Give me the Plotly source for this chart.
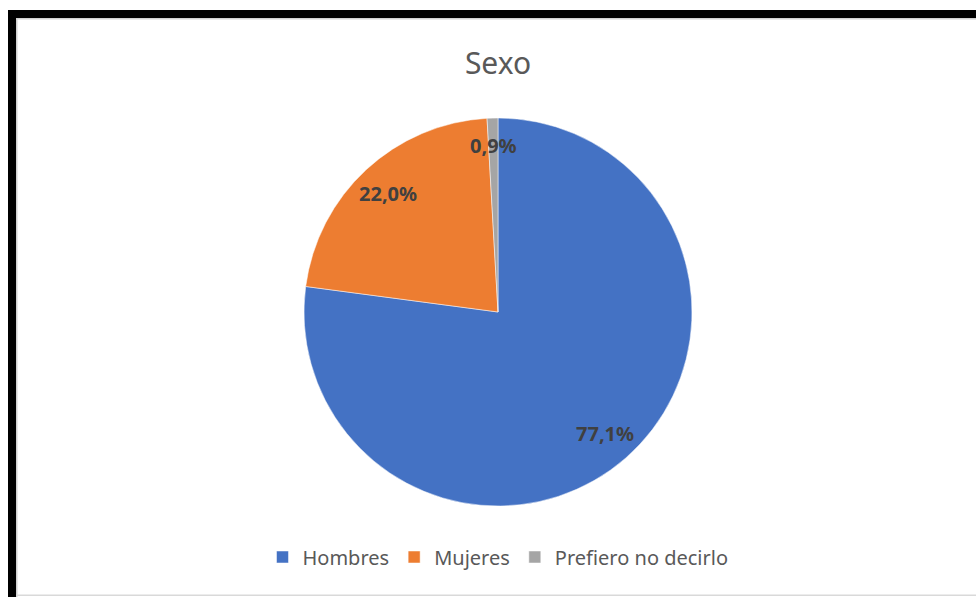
import math
import plotly.graph_objects as go

# ---- data ----
categories = ["Hombres", "Mujeres", "Prefiero no decirlo"]
values = [77.1, 22.0, 0.9]
label_texts = ["77,1%", "22,0%", "0,9%"]
colors = ["#4472C4", "#ED7D31", "#A5A5A5"]
title_text = "Sexo"

W, H = 976, 597
ML, MR, MT, MB = 20, 0, 118, 91
PW, PH = W - ML - MR, H - MT - MB
FONT = "Segoe UI, Noto Sans, sans-serif"


def px_to_paper(x, y):
    return (x - ML) / PW, (H - MB - y) / PH


fig = go.Figure(
    go.Pie(
        labels=categories,
        values=values,
        marker=dict(colors=colors, line=dict(color="white", width=0.5)),
        sort=False,
        direction="clockwise",
        rotation=0,
        textinfo="none",
        hoverinfo="label+percent",
        domain=dict(x=[0, 1], y=[0, 1]),
    )
)

# data labels positioned at each slice's mid-angle
total = sum(values)
radius_px = min(PW, PH) / 2
cx_px, cy_px = ML + PW / 2, MT + PH / 2
cum = 0.0
annotations = []
for v, t in zip(values, label_texts):
    mid = (cum + v / 2) / total * 2 * math.pi
    cum += v
    r = radius_px * (0.835 if v / total > 0.02 else 0.86)
    lx = cx_px + r * math.sin(mid)
    ly = cy_px - r * math.cos(mid)
    ax, ay = px_to_paper(lx, ly)
    annotations.append(
        dict(
            x=ax, y=ay, xref="paper", yref="paper", text="<b>" + t + "</b>",
            showarrow=False, xanchor="center", yanchor="middle",
            font=dict(family=FONT, size=20, color="#404040"),
        )
    )

# frame (screenshot border)
shapes = []
def rect(x0, y0, x1, y1, color):
    a0, b0 = px_to_paper(x0, y1)
    a1, b1 = px_to_paper(x1, y0)
    shapes.append(dict(type="rect", xref="paper", yref="paper", x0=a0, y0=b0,
                       x1=a1, y1=b1, fillcolor=color, line=dict(width=0), layer="above"))

rect(8, 10, W + 5, 18, "#000000")
rect(8, 10, 16, H + 5, "#000000")
rect(16, 18, W + 5, 19.5, "#D0D0D0")
rect(16, 18, 17.5, H + 5, "#D0D0D0")
rect(16, 594.5, W + 5, 596, "#D9D9D9")

fig.update_layout(
    width=W,
    height=H,
    margin=dict(l=ML, r=MR, t=MT, b=MB),
    paper_bgcolor="white",
    plot_bgcolor="white",
    title=dict(
        text=title_text, x=(498) / W, xanchor="center", y=1 - 63 / H, yanchor="middle",
        yref="container", font=dict(family=FONT, size=30, color="#595959"),
    ),
    showlegend=True,
    legend=dict(
        orientation="h", x=0.5, xanchor="center", y=(H - MB - 557) / PH, yanchor="middle",
        font=dict(family=FONT, size=20, color="#595959"), itemclick=False,
        traceorder="normal",
    ),
    annotations=annotations,
    shapes=shapes,
)

fig.write_html(
    "out.html",
    config={"displayModeBar": False},
    post_script="document.body.style.margin='0';document.body.style.overflow='hidden';",
)
